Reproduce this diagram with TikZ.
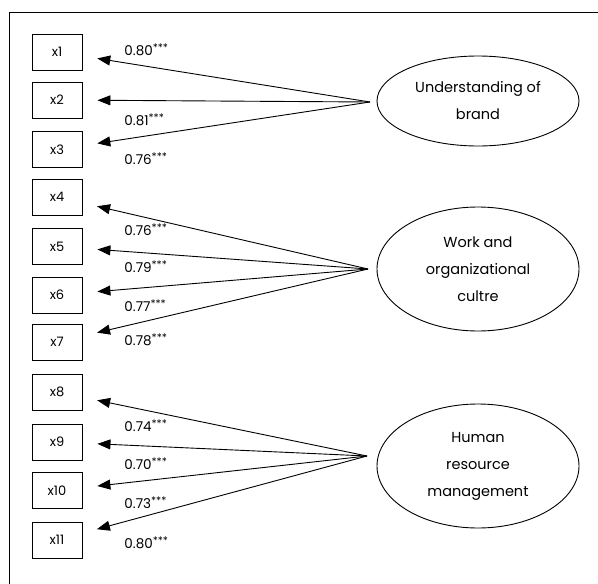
\documentclass[tikz,border=0pt]{standalone}
\usepackage{fontspec}
\setmainfont{Poppins}
\usetikzlibrary{shapes.geometric,arrows.meta}
\newcommand{\sig}{\raisebox{0.55ex}{\fontsize{10.5}{11}\selectfont ***}}
\begin{document}
\begin{tikzpicture}[x=1pt,y=-1pt,
  line width=0.9pt,
  ind/.style={draw,minimum width=50pt,minimum height=36pt,inner sep=0pt,font=\fontsize{13}{15}\selectfont},
  lat/.style={draw,ellipse,inner sep=0pt,minimum width=202pt,align=center,
    font=\fontsize{14.5}{27}\selectfont},
  load/.style={-{Triangle[length=13pt,width=10pt]},shorten >=15pt},
  coef/.style={anchor=west,inner sep=0pt,font=\fontsize{13.5}{15}\selectfont}]
\useasboundingbox (0,0) rectangle (598,584);
% open frame (top and left edges)
\draw[line width=0.8pt] (9,584) -- (9,12.5) -- (598,12.5);

% observed indicators
\foreach \n/\y in {1/52,2/100,3/149.5,4/197,5/246.5,6/295,7/342,8/392,9/442,10/490.5,11/540}
  \node[ind] (x\n) at (57,\y) {x\n};

% latent constructs
\node[lat,minimum height=90pt]  (brand) at (478,101) {Understanding of\\brand};
\node[lat,minimum height=124pt] (culture) at (478,269) {Work and\\organizational\\cultre};
\node[lat,minimum height=124pt] (hrm) at (478,466) {Human\\resource\\management};

% common origins of the loading arrows
\coordinate (o1) at (370,102);
\coordinate (o2) at (368,269);
\coordinate (o3) at (367,456);

\foreach \n in {1,2,3} \draw[load] (o1) -- (x\n);
\foreach \n in {4,5,6,7} \draw[load] (o2) -- (x\n);
\foreach \n in {8,9,10,11} \draw[load] (o3) -- (x\n);

% standardized loadings
\foreach \n/\v/\y in {1/0.80/50,2/0.81/120,3/0.76/159,4/0.76/230,5/0.79/267,6/0.77/305.5,7/0.78/340,8/0.74/426,9/0.70/464,10/0.73/502.5,11/0.80/543}
  \node[coef] (l\n) at (124,\y) {\v\sig};
\end{tikzpicture}
\end{document}
